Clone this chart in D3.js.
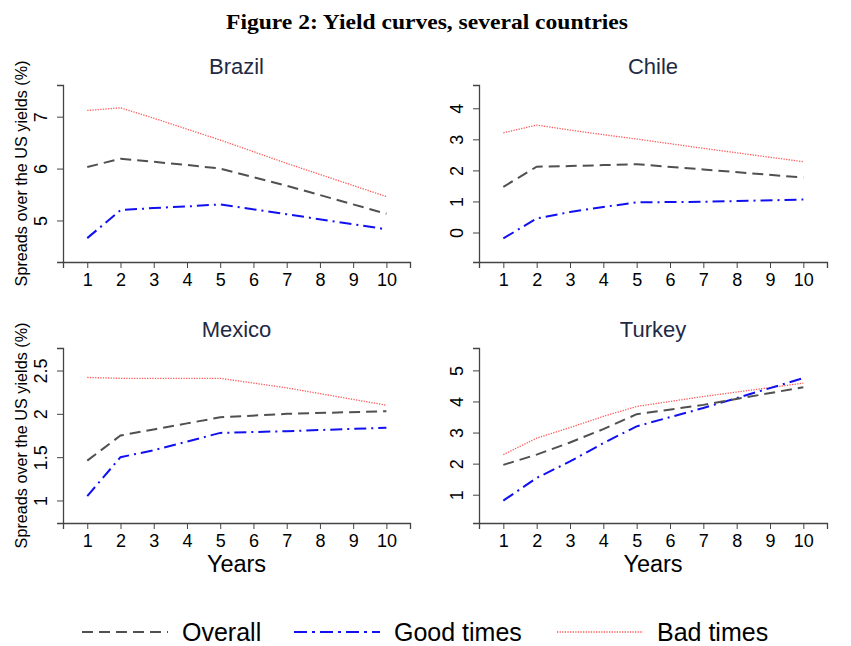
<!DOCTYPE html>
<html>
<head>
<meta charset="utf-8">
<script src="https://cdn.jsdelivr.net/npm/d3@7"></script>
<style>
    body { margin: 0; background: #fff; }
    svg { display: block; font-family: 'Liberation Sans', Arial, sans-serif; }
</style>
</head>
<body>
<svg id="chart" width="851" height="646"></svg>
<script>
// maturities (years) the curves are read at
const maturities = [1, 2, 3, 4, 5, 7, 10]
const xTicks = [1, 2, 3, 4, 5, 6, 7, 8, 9, 10]

const countries = ['Brazil', 'Chile', 'Mexico', 'Turkey']

const brazilOverall = [6.03, 6.19, 6.13, 6.07, 6.00, 5.67, 5.13]
const brazilGood    = [4.66, 5.20, 5.24, 5.27, 5.31, 5.12, 4.83]
const brazilBad     = [7.12, 7.17, 6.97, 6.76, 6.55, 6.10, 5.46]

const chileOverall = [1.47, 2.12, 2.14, 2.17, 2.20, 2.03, 1.77]
const chileGood    = [-0.19, 0.45, 0.66, 0.82, 0.97, 0.99, 1.06]
const chileBad     = [3.21, 3.46, 3.30, 3.15, 3.01, 2.71, 2.28]

const mexicoOverall = [1.46, 1.75, 1.82, 1.89, 1.96, 2.00, 2.03]
const mexicoGood    = [1.05, 1.50, 1.58, 1.68, 1.78, 1.80, 1.84]
const mexicoBad     = [2.42, 2.41, 2.41, 2.41, 2.41, 2.30, 2.10]

const turkeyOverall = [1.96, 2.29, 2.68, 3.11, 3.59, 3.89, 4.46]
const turkeyGood    = [0.81, 1.54, 2.07, 2.66, 3.20, 3.79, 4.75]
const turkeyBad     = [2.29, 2.82, 3.16, 3.52, 3.84, 4.16, 4.59]

const yTicks = {
    Brazil: [5, 6, 7],
    Chile: [0, 1, 2, 3, 4],
    Mexico: [1, 1.5, 2, 2.5],
    Turkey: [1, 2, 3, 4, 5]
}

const yDomains = {
    Brazil: [4.2, 7.61],
    Chile: [-0.95, 4.75],
    Mexico: [0.74, 2.76],
    Turkey: [0.09, 5.72]
}

const seriesByCountry = {
    Brazil: [brazilOverall, brazilGood, brazilBad],
    Chile: [chileOverall, chileGood, chileBad],
    Mexico: [mexicoOverall, mexicoGood, mexicoBad],
    Turkey: [turkeyOverall, turkeyGood, turkeyBad]
}

const seriesNames = ['Overall', 'Good times', 'Bad times']

const styles = [
    { stroke: '#505050', width: 2, dash: '11,6' },
    { stroke: '#1010f0', width: 2, dash: '12,5,2,5' },
    { stroke: '#ff5a5a', width: 1.3, dash: '1.3,1.3' }
]

class Panel {

    constructor (svg, country, box, opts) {
        this.svg = svg
        this.country = country
        this.box = box
        this.opts = Object.assign({ yLabel: false, xLabel: false }, opts)
    }

    get xScale () {
        return d3.scaleLinear().domain([0.27, 10.71]).range([this.box.x0, this.box.x1])
    }

    get yScale () {
        return d3.scaleLinear().domain(yDomains[this.country]).range([this.box.y1, this.box.y0])
    }

    render () {
        const x = this.xScale
        const y = this.yScale
        const g = this.svg.append('g')
        const midX = (this.box.x0 + this.box.x1) / 2
        const midY = (this.box.y0 + this.box.y1) / 2

        // x axis
        const xa = g.append('g')
            .attr('transform', `translate(0,${this.box.y1})`)
            .call(d3.axisBottom(x).tickValues(xTicks).tickSizeOuter(0).tickSize(6))
        xa.selectAll('text')
            .attr('y', 24).attr('dy', null)
            .attr('font-size', 18).attr('fill', '#000')

        // y axis, labels turned like Stata
        const ya = g.append('g')
            .attr('transform', `translate(${this.box.x0},0)`)
            .call(d3.axisLeft(y).tickValues(yTicks[this.country])
                .tickFormat(d3.format('~g')).tickSizeOuter(0).tickSize(6))
        ya.selectAll('text')
            .attr('x', null).attr('dy', null)
            .attr('transform', 'translate(-16,0) rotate(-90)')
            .attr('text-anchor', 'middle')
            .attr('font-size', 18).attr('fill', '#000')

        g.selectAll('.domain, .tick line').attr('stroke', '#444').attr('stroke-width', 1)
        g.selectAll('.domain').attr('stroke-width', 1.3)

        g.append('text')
            .attr('x', midX).attr('y', this.box.y0 - 11)
            .attr('text-anchor', 'middle')
            .attr('font-size', 22)
            .attr('fill', '#1e2a45')
            .text(this.country)

        if (this.opts.yLabel) {
            g.append('text')
                .attr('transform', `translate(${this.box.x0 - 36},${midY}) rotate(-90)`)
                .attr('text-anchor', 'middle')
                .attr('font-size', 16.2)
                .attr('fill', '#000')
                .text('Spreads over the US yields (%)')
        }

        if (this.opts.xLabel) {
            g.append('text')
                .attr('x', midX).attr('y', this.box.y1 + 49)
                .attr('text-anchor', 'middle')
                .attr('font-size', 23.5)
                .attr('fill', '#000')
                .text('Years')
        }

        const line = d3.line()
            .x((d, i) => x(maturities[i]))
            .y(d => y(d))

        // draw bad first so the others sit on top
        seriesByCountry[this.country].map((s, i) => ({ s, i })).reverse().forEach(({ s, i }) => {
            g.append('path')
                .datum(s)
                .attr('d', line)
                .attr('fill', 'none')
                .attr('stroke', styles[i].stroke)
                .attr('stroke-width', styles[i].width)
                .attr('stroke-dasharray', styles[i].dash)
        })
    }
}

const svg = d3.select('#chart')

svg.append('rect').attr('width', 851).attr('height', 646).attr('fill', '#fff')

svg.append('text')
    .attr('x', 427).attr('y', 29)
    .attr('text-anchor', 'middle')
    .attr('font-family', "'Liberation Serif', 'DejaVu Serif', serif")
    .attr('font-weight', 'bold')
    .attr('font-size', 21)
    .attr('textLength', 402)
    .attr('lengthAdjust', 'spacingAndGlyphs')
    .text('Figure 2:  Yield curves, several countries')

const cols = [{ x0: 63, x1: 410 }, { x0: 479, x1: 827 }]
const rows = [{ y0: 85, y1: 262 }, { y0: 348, y1: 523 }]

countries.forEach((c, i) => {
    const col = cols[i % 2]
    const row = rows[Math.floor(i / 2)]
    new Panel(svg, c, Object.assign({}, col, row), {
        yLabel: i % 2 === 0,
        xLabel: i >= 2
    }).render()
})

// legend
const legendX = [82, 294, 557]
const legend = svg.append('g')
seriesNames.forEach((name, i) => {
    legend.append('line')
        .attr('x1', legendX[i]).attr('x2', legendX[i] + 86)
        .attr('y1', 632).attr('y2', 632)
        .attr('stroke', styles[i].stroke)
        .attr('stroke-width', styles[i].width)
        .attr('stroke-dasharray', i === 0 ? '11,6' : i === 1 ? '13,5,3,5' : styles[i].dash)
    legend.append('text')
        .attr('x', legendX[i] + 100).attr('y', 641)
        .attr('font-size', 25)
        .attr('fill', '#000')
        .text(name)
})
</script>
</body>
</html>
